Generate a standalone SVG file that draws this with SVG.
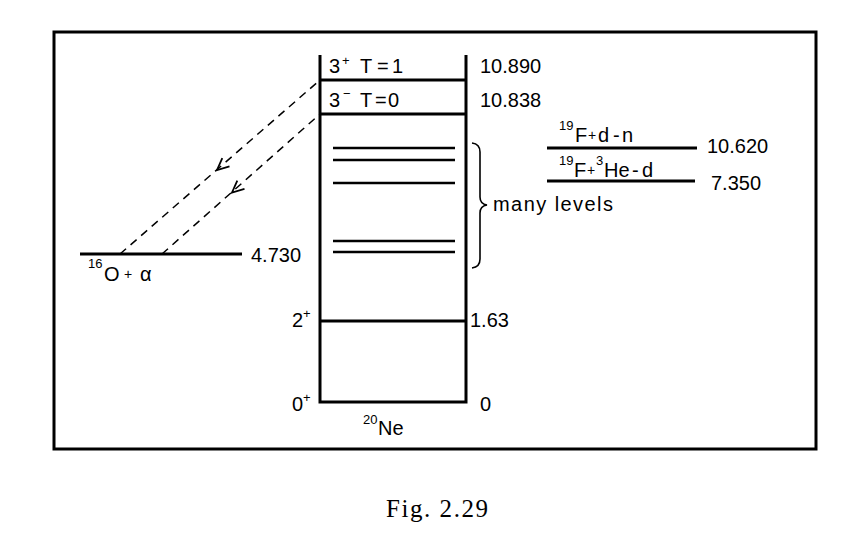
<svg xmlns="http://www.w3.org/2000/svg" xmlns:xlink="http://www.w3.org/1999/xlink" width="868" height="538" viewBox="0 0 868 538">
<style>
  .t { font-family: "Liberation Sans", Arial, sans-serif; font-size: 20px; fill: #000; }
  .s { font-family: "Liberation Sans", Arial, sans-serif; font-size: 13px; fill: #000; }
  .p { font-family: "Liberation Sans", Arial, sans-serif; font-size: 14px; fill: #000; }
  .cap { font-family: "Liberation Serif", "Times New Roman", serif; font-size: 25px; fill: #000; }
  .ln { stroke: #000; stroke-width: 3; fill: none; }
  .lv { stroke: #000; stroke-width: 2.7; fill: none; }
  .dash { stroke: #000; stroke-width: 1.5; stroke-dasharray: 8 6; fill: none; }
  .ah { stroke: #000; stroke-width: 1.8; fill: none; stroke-linejoin: miter; }
</style>
<defs>
  <path id="ah" class="ah" d="M12.5,-3.6 L0,0 L5.3,-11.9"/>
</defs>
<rect width="868" height="538" fill="#fff"/>
<rect id="frame" x="54" y="32" width="762" height="417" class="ln"/>

<g id="ne20">
  <path class="ln" d="M320,55 V402 H466 V55"/>
  <line class="ln" x1="320" y1="80" x2="466" y2="80"/>
  <line class="ln" x1="320" y1="114" x2="466" y2="114"/>
  <line class="ln" x1="320" y1="321" x2="466" y2="321"/>
  <line class="lv" x1="333" y1="148" x2="455" y2="148"/>
  <line class="lv" x1="333" y1="160" x2="455" y2="160"/>
  <line class="lv" x1="333" y1="183" x2="455" y2="183"/>
  <line class="lv" x1="333" y1="241" x2="455" y2="241"/>
  <line class="lv" x1="333" y1="252" x2="455" y2="252"/>
  <text class="t" x="329" y="73">3</text><text class="s" x="342" y="65">+</text>
  <text class="t" x="360" y="73">T</text><text class="t" x="377" y="73">=</text><text class="t" x="392" y="73">1</text>
  <text class="t" x="329" y="107">3</text><text class="s" x="343" y="98">−</text>
  <text class="t" x="360" y="107">T</text><text class="t" x="375" y="107">=</text><text class="t" x="388" y="107">0</text>
  <text class="t" x="480" y="73">10.890</text>
  <text class="t" x="480" y="107">10.838</text>
  <path d="M472,143 Q480,144 480,152 V197 Q480,204 487,205 Q480,206 480,213 V259 Q480,267 472,268" stroke="#000" stroke-width="1.6" fill="none"/>
  <text class="t" x="493" y="211" textLength="120">many levels</text>
  <text class="t" x="292" y="327">2</text><text class="s" x="303" y="318">+</text>
  <text class="t" x="470" y="327">1.63</text>
  <text class="t" x="292" y="411">0</text><text class="s" x="303" y="402">+</text>
  <text class="t" x="480" y="411">0</text>
  <text class="s" x="363" y="424">20</text><text class="t" x="378" y="435">Ne</text>
</g>

<g id="o16alpha">
  <line class="ln" x1="80" y1="254" x2="242" y2="254"/>
  <text class="t" x="251" y="262">4.730</text>
  <text class="s" x="88" y="268">16</text><text class="t" x="104" y="281">O</text>
  <text class="p" x="124" y="279">+</text><text class="t" x="140" y="281">α</text>
</g>

<g id="f19dn">
  <line class="ln" x1="547" y1="148" x2="697" y2="148"/>
  <text class="s" x="559" y="130">19</text><text class="t" x="575" y="142">F</text>
  <text class="p" x="588" y="140">+</text><text class="t" x="598" y="142">d</text>
  <text class="t" x="613" y="142">-</text><text class="t" x="622" y="142">n</text>
  <text class="t" x="707" y="153">10.620</text>
</g>

<g id="f19he3d">
  <line class="ln" x1="547" y1="181" x2="695" y2="181"/>
  <text class="s" x="559" y="165">19</text><text class="t" x="574" y="177">F</text>
  <text class="p" x="587" y="175">+</text><text class="s" x="596" y="165">3</text>
  <text class="t" x="604" y="177">He</text>
  <text class="t" x="632" y="177">-</text><text class="t" x="642" y="177">d</text>
  <text class="t" x="711" y="190">7.350</text>
</g>

<g id="connectors">
  <line class="dash" x1="120" y1="254" x2="320" y2="80"/>
  <line class="dash" x1="162" y1="254" x2="320" y2="114"/>
  <use xlink:href="#ah" href="#ah" x="217" y="170"/>
  <use xlink:href="#ah" href="#ah" x="232" y="192.5"/>
</g>

<text class="cap" x="386" y="517" textLength="102">Fig. 2.29</text>
</svg>
